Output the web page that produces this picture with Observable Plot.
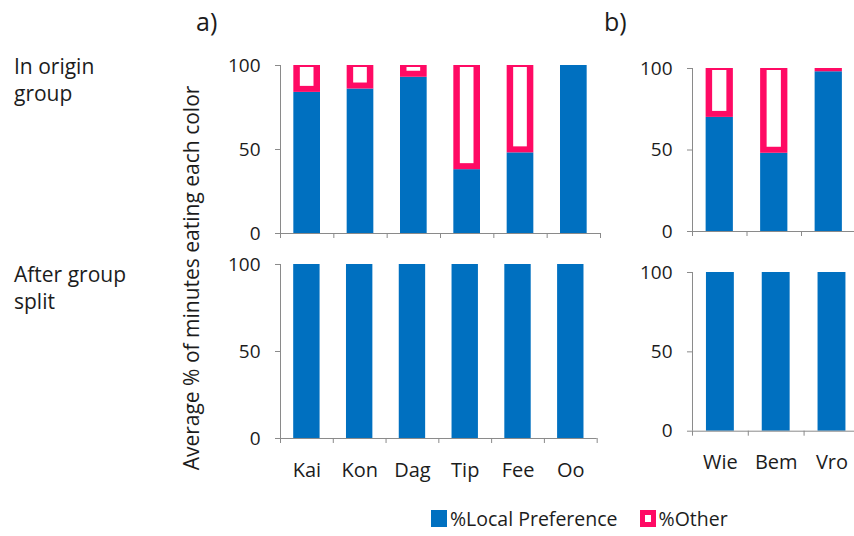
<!DOCTYPE html>
<html>
<head>
<meta charset="utf-8">
<script src="https://cdn.jsdelivr.net/npm/d3@7"></script>
<script src="https://cdn.jsdelivr.net/npm/@observablehq/plot@0.6"></script>
<style>
  body { margin: 0; background: #fff; }
  #page { position: relative; width: 854px; height: 536px; overflow: hidden;
          font-family: "Open Sans", sans-serif; color: #1c1c1c; }
  .abs { position: absolute; white-space: nowrap; }
  .row { font-size: 21px; line-height: 27.5px; }
  .tag { font-size: 25px; line-height: normal; }
  .ylab { font-size: 21px; line-height: normal; transform-origin: center center; transform: translate(-50%, -50%) rotate(-90deg); }
  .key { font-size: 19.5px; line-height: normal; display: flex; align-items: center; }
  .sw { width: 16px; height: 17px; margin-right: 3px; box-sizing: border-box; }
</style>
</head>
<body>
<div id="page"></div>
<script>
// Individuals in each group
const groupA = ["Kai", "Kon", "Dag", "Tip", "Fee", "Oo"];
const groupB = ["Wie", "Bem", "Vro"];

// % of feeding minutes on the locally preferred colour
const localOriginA = [84, 86, 93, 38, 48, 100];
const localOriginB = [70, 48, 98];
const localSplitA = [100, 100, 100, 100, 100, 100];
const localSplitB = [100, 100, 100];

const yTicks = [0, 50, 100];
const seriesNames = ["%Local Preference", "%Other"];
const yTitle = "Average % of minutes eating each color";

const BLUE = "#0070c0";
const PINK = "#ff0a64";
const AXIS = "#8a8a8a";
const INK = "#1c1c1c";

const page = document.getElementById("page");

function place(el, left, top) {
  el.style.position = "absolute";
  el.style.left = left + "px";
  el.style.top = top + "px";
  page.appendChild(el);
}

// One stacked-bar panel: blue local share, pink-outlined remainder
function panel({names, local, axisX, yTop, plotW, plotH, labels}) {
  const ml = 80, mr = 12, mt = 12, mb = labels ? 50 : 14;
  const rows = names.map((name, i) => ({name, i, local: local[i], other: 100 - local[i]}));
  const rest = rows.filter(d => d.other > 0);
  const hollow = rows.filter(d => d.other >= 5);
  const edges = d3.range(names.length + 1);
  const bx1 = d => d.i + 0.25, bx2 = d => d.i + 0.75;

  const chart = Plot.plot({
    width: ml + plotW + mr,
    height: mt + plotH + mb,
    marginLeft: ml, marginRight: mr, marginTop: mt, marginBottom: mb,
    style: {fontFamily: "'Open Sans', sans-serif", fontSize: "19px", color: INK, background: "transparent", overflow: "visible"},
    x: {domain: [0, names.length], axis: null},
    y: {domain: [0, 100], axis: null},
    marks: [
      Plot.rect(rows, {x1: bx1, x2: bx2, y1: 0, y2: "local", fill: BLUE}),
      Plot.rect(rest, {x1: bx1, x2: bx2, y1: "local", y2: 100, fill: PINK}),
      Plot.rect(hollow, {x1: bx1, x2: bx2, y1: "local", y2: 100, fill: "#fff",
        insetLeft: 6.5, insetRight: 6.5, insetTop: 2, insetBottom: 6}),
      Plot.ruleY([0], {stroke: AXIS}),
      Plot.ruleX([0], {y1: 0, y2: 100, stroke: AXIS}),
      Plot.ruleX(edges, {x: d => d, y1: 0, y2: 0, insetBottom: -5, stroke: AXIS}),
      Plot.axisY(yTicks, {tickSize: 5, tickPadding: 15, stroke: AXIS, fill: INK, label: null}),
      labels ? Plot.axisX(names.map((_, i) => i + 0.5), {
        tickFormat: v => names[Math.floor(v)], tickSize: 0, tickPadding: 24, fill: INK,
        fontSize: 20, label: null
      }) : null
    ]
  });
  place(chart, axisX - ml, yTop - mt);
}

panel({names: groupA, local: localOriginA, axisX: 280, yTop: 65, plotW: 320, plotH: 168, labels: false});
panel({names: groupA, local: localSplitA, axisX: 280, yTop: 264.3, plotW: 316.7, plotH: 174, labels: true});
panel({names: groupB, local: localOriginB, axisX: 691.7, yTop: 67.7, plotW: 163.5, plotH: 163, labels: false});
panel({names: groupB, local: localSplitB, axisX: 691.7, yTop: 272.3, plotW: 167.4, plotH: 158.7, labels: true});

// Text around the panels
function text(str, cls, left, top) {
  const d = document.createElement("div");
  d.className = "abs " + cls;
  d.innerHTML = str;
  place(d, left, top);
  return d;
}
text("a)", "tag", 196, 4);
text("b)", "tag", 604, 4);
text("In origin<br>group", "row", 14, 52.5);
text("After group<br>split", "row", 14, 260.5);
text(yTitle, "ylab", 191, 278);

// Legend
const legend = document.createElement("div");
legend.className = "abs key";
const swatches = [
  `<div class="sw" style="background:${BLUE}"></div>`,
  `<div class="sw" style="background:#fff;border:5.5px solid ${PINK}"></div>`
];
legend.innerHTML = seriesNames.map((n, i) =>
  `<div style="display:flex;align-items:center;margin-right:${i === 0 ? 22 : 0}px">${swatches[i]}<span>${n}</span></div>`
).join("");
place(legend, 431, 505);
</script>
</body>
</html>
